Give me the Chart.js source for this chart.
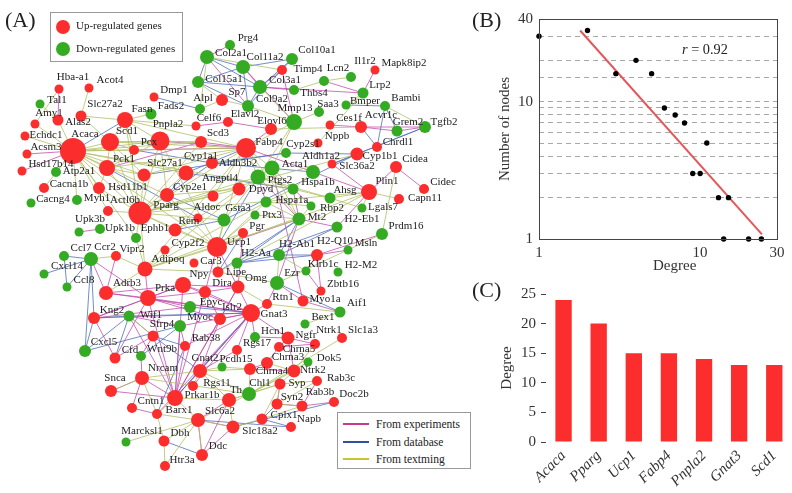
<!DOCTYPE html>
<html>
<head>
<meta charset="utf-8">
<title>Gene network</title>
<script src="https://cdn.jsdelivr.net/npm/chart.js@4"></script>
<style>
  html, body { margin: 0; padding: 0; background: #fff; overflow: hidden; }
  body { width: 792px; height: 493px; position: relative; font-family: "Liberation Serif", serif; color: #222; }
  canvas { position: absolute; }
  .panel { position: absolute; font-size: 22px; line-height: 24px; }
  .box { position: absolute; box-sizing: border-box; border: 1.5px solid #999; background: #fff; }
  .item { position: absolute; font-size: 11px; line-height: 14px; white-space: nowrap; }
  .dot { position: absolute; width: 14px; height: 14px; border-radius: 50%; }
  .dash { position: absolute; width: 26px; height: 2px; }
  #frameB { position: absolute; box-sizing: border-box; left: 539px; top: 19px; width: 239px; height: 221px; border: 1px solid #444; }
</style>
</head>
<body>
<canvas id="network" width="480" height="493" style="left:0;top:0"></canvas>
<canvas id="degreeDist" width="312" height="275" style="left:480px;top:0"></canvas>
<canvas id="topGenes" width="312" height="218" style="left:480px;top:275px"></canvas>
<div id="frameB"></div>

<div class="panel" style="left:5px;top:8px">(A)</div>
<div class="panel" style="left:472px;top:8px">(B)</div>
<div class="panel" style="left:472px;top:278px">(C)</div>

<div class="box" style="left:50px;top:12px;width:133px;height:50px">
  <div class="dot" style="left:5px;top:7px;background:#fb2d2d"></div>
  <div class="item" style="left:25px;top:5px">Up-regulated genes</div>
  <div class="dot" style="left:5px;top:29px;background:#35ab24"></div>
  <div class="item" style="left:25px;top:28px">Down-regulated genes</div>
</div>

<div class="box" style="left:337px;top:412px;width:134px;height:57px">
  <div class="dash" style="left:5px;top:10px;background:#c8398f"></div>
  <div class="item" style="left:38px;top:4px;font-size:11.5px">From experiments</div>
  <div class="dash" style="left:5px;top:28px;background:#33509f"></div>
  <div class="item" style="left:38px;top:22px;font-size:11.5px">From database</div>
  <div class="dash" style="left:5px;top:45px;background:#c6c62f"></div>
  <div class="item" style="left:38px;top:39px;font-size:11.5px">From textming</div>
</div>

<div class="item" style="left:682px;top:41px;font-size:14.3px;line-height:16px"><i>r</i> = 0.92</div>
<div class="item" style="left:653px;top:257px;font-size:15px;line-height:16px;color:#333">Degree</div>

<script>
// (A) network, one entry per gene, same order in every array
const genes = [
  'Tal1','Hba-a1','Acot4','Amy1','Alas2','Slc27a2','Fasn','Fads2','Dmp1','Alpl',
  'Sp7','Col15a1','Col2a1','Prg4','Echdc1','Acsm3','Acaca','Scd1','Pcx','Pnpla2',
  'Pck1','Hsd17b14','Atp2a1','Slc27a1','Cacna1b','Cacng4','Myh1','Hsd11b1','Actl6b','Pparg',
  'Cyp2e1','Upk3b','Upk1b','Ephb1','Rem','Aldoc','Gsta3','Angptl4','Dpyd','Cyp1a1',
  'Aldh3b2','Celf6','Elavl2','Scd3','Fabp4','Elovl6','Mmp13','Ccl7','Ccr2','Vipr2',
  'Cxcl14','Ccl8','Adrb3','Adipoq','Cyp2f2','Ucp1','Car3','Npy','Lipe','H2-Aa',
  'Prka','Dira','Omg','Epyc','Islr2','Gnat3','Kng2','Wif1','Sfrp4','Myoc',
  'Cxcl5','Cfd','Wnt9b','Rab38','Gnat2','Pcdh15','Rgs17','Hcn1','Ngfr','Ntrk1',
  'Slc1a3','Chrna5','Chrna3','Chrna4','Ntrk2','Dok5','Rab3c','Syp','Chl1','Syn2',
  'Rab3b','Doc2b','Cplx1','Napb','Slc18a2','Slc6a2','Th','Rgs11','Prkar1b','Nrcam',
  'Snca','Cntn1','Barx1','Marcksl1','Dbh','Ddc','Htr3a','Cidea','Cidec','Plin1',
  'Capn11','Ahsg','Cyp2s1','Ptgs2','Acta1','Hspa1b','Aldh1a2','Slc36a2','Cyp1b1','Nppb',
  'Ces1f','Acvr1c','Grem2','Tgfb2','Chrdl1','Bambi','Bmper','Saa3','Lrp2','Mapk8ip2',
  'Il1r2','Lcn2','Thbs4','Col3a1','Col9a2','Col11a2','Col10a1','Timp4','Hspa1a','Rbp2',
  'Lgals7','Ptx3','Mt2','H2-Eb1','Prdm16','Pgr','H2-Ab1','H2-Q10','Msln','H2-M2',
  'Klrb1c','Ezr','Zbtb16','Myo1a','Rtn1','Aif1','Bex1'
];
const geneX = [
  40,59,89,35,58,81,125,151,154,200,
  222,198,207,230,25,27,73,110,134,160,
  107,22,56,144,44,31,77,99,108,140,
  167,79,100,136,175,198,224,213,239,186,
  212,196,228,201,246,271,294,64,91,116,
  44,67,106,145,165,217,194,183,218,237,
  148,205,238,190,220,251,94,129,153,180,
  85,115,141,185,200,222,237,255,288,315,
  342,279,267,250,294,308,317,280,249,277,
  302,334,262,291,233,198,229,193,175,142,
  111,132,157,126,164,202,165,396,424,369,
  399,330,313,258,272,293,286,332,357,318,
  330,361,397,425,377,385,346,319,363,375,
  351,324,294,260,248,243,292,282,266,311,
  362,255,299,337,382,243,279,317,348,338,
  306,277,321,303,267,340,305
];
const geneY = [
  104,89,88,124,120,116,120,114,97,109,
  100,82,57,45,136,154,151,142,150,141,
  168,171,172,175,188,203,200,188,211,213,
  195,232,229,238,230,218,220,196,189,173,
  163,126,122,142,148,129,122,256,259,256,
  274,287,293,269,250,247,263,285,272,263,
  298,292,287,307,319,313,318,316,336,326,
  351,358,356,346,371,367,350,337,338,344,
  338,347,363,369,371,362,381,384,394,404,
  406,402,419,427,427,420,400,386,398,378,
  391,408,414,442,441,455,466,167,189,192,
  199,198,172,177,168,189,153,164,154,143,
  125,127,131,127,147,106,105,112,93,70,
  77,81,90,87,106,67,59,70,202,206,
  208,215,219,227,234,233,255,255,250,272,
  271,283,291,301,304,312,324
];
const geneSize = [
  4.5,4.5,4.5,4.5,5.5,5.5,8,5.5,4.5,5,
  6,6,7,5,4.5,4.5,13,9,5,9.5,
  8,4.5,5,6.5,5,4.5,5,6,5,11.5,
  7,4.5,5,5,6.5,4.5,6.5,5.5,6.5,7.5,
  6,4.5,5,6,10,6,8,5,7,5,
  4.5,4.5,7,7.5,4.5,10,4.5,8,5.5,5.5,
  8,6,6.5,6,6,9,6,5.5,5.5,6,
  6,5.5,5,5,7,4.5,5,5,6.5,5,
  5,5,6,6,6.5,4.5,5,5.5,7,5.5,
  5.5,5,5.5,5,6.5,7,7,5,8,7,
  6,5,5,4.5,5.5,6,5,6,5,8,
  5,5.5,7,7.5,7.5,5.5,5,4.5,6.5,4.5,
  4.5,6,5.5,6,5,5,4.5,5,5.5,4.5,
  5,5,5,7,6,7,6,5,5.5,4.5,
  4.5,4.5,6.5,5.5,6,5,6,6,4.5,4.5,
  4.5,7,4.5,5.5,5,5.5,4.5
];
const downGenes = [
  'Tal1','Fads2','Alpl','Col15a1','Col2a1','Prg4','Atp2a1','Cacng4','Myh1','Upk3b',
  'Upk1b','Ephb1','Gsta3','Mmp13','Ccl7','Ccr2','Cxcl14','Ccl8','H2-Aa','Epyc',
  'Wif1','Myoc','Cxcl5','Wnt9b','Pcdh15','Hcn1','Dok5','Chl1','Marcksl1','Ahsg',
  'Cyp2s1','Ptgs2','Acta1','Hspa1b','Aldh1a2','Grem2','Tgfb2','Bambi','Bmper','Saa3',
  'Lrp2','Il1r2','Lcn2','Thbs4','Col3a1','Col9a2','Col11a2','Col10a1','Hspa1a','Rbp2',
  'Lgals7','Ptx3','Mt2','H2-Eb1','Prdm16','H2-Ab1','Msln','H2-M2','Klrb1c','Ezr',
  'Aif1','Bex1'
];
const labelX = [
  57,73,110,49,78,105,142,171,174,203,
  237,224,231,248,46,46,85,127,149,168,
  124,51,79,165,69,53,97,128,125,166,
  190,90,120,155,189,207,238,220,261,201,
  238,209,245,218,269,272,295,81,105,132,
  67,84,127,168,188,239,211,199,236,256,
  165,222,256,211,232,274,112,151,162,200,
  104,130,162,206,205,236,257,273,306,329,
  363,299,288,272,313,329,341,297,260,292,
  320,354,284,309,260,220,236,217,202,163,
  115,151,179,142,180,218,182,415,443,387,
  425,345,303,280,295,318,321,357,380,337,
  349,381,408,444,398,406,365,328,380,404,
  365,338,314,285,272,265,317,308,292,332,
  383,272,317,362,406,257,297,335,366,361,
  323,292,343,325,283,357,323
];
const labelY = [
  100,77,80,113,122,104,109,106,90,98,
  92,79,53,38,135,147,134,131,142,124,
  159,164,171,163,184,199,198,187,200,205,
  187,219,228,228,221,207,208,178,189,156,
  163,118,114,133,142,121,108,248,247,249,
  266,280,283,259,243,242,261,274,272,253,
  288,283,278,302,307,314,310,315,324,317,
  342,350,349,338,358,359,343,331,335,330,
  330,349,357,371,370,358,378,383,383,397,
  392,394,415,419,431,411,390,383,395,368,
  378,401,410,431,433,446,460,159,182,181,
  198,190,144,180,164,182,156,166,156,136,
  118,115,122,122,142,98,101,104,85,63,
  61,68,93,80,99,57,50,69,200,208,
  207,215,217,219,226,226,244,241,243,265,
  264,273,284,299,297,303,317
];

// gene pairs, by evidence
const experimentEdges = [
  'Hba-a1 Alas2','Acsm3 Acaca','Hsd17b14 Acaca','Col2a1 Prg4','Col2a1 Col9a2','Col11a2 Col3a1','Col11a2 Mmp13',
  'Col3a1 Thbs4','Col3a1 Lrp2','Mmp13 Timp4','Col3a1 Timp4','Mapk8ip2 Lrp2','Lcn2 Lrp2','Acvr1c Tgfb2',
  'Acvr1c Grem2','Grem2 Tgfb2','Ces1f Acvr1c','Elavl2 Elovl6','Celf6 Elavl2','Fabp4 Elovl6','Fabp4 Scd3',
  'Pnpla2 Fabp4','Fabp4 Plin1','Cidea Plin1','Cidea Cidec','Plin1 Slc36a2','Pck1 Scd3','Pcx Fabp4',
  'Upk3b Upk1b','Ccr2 Prka','Ccr2 Adrb3','Vipr2 Adrb3','Adipoq Prka','Adrb3 Prka','Adrb3 Npy','Adrb3 Gnat3',
  'Prka Npy','Prka Dira','Prka Gnat3','Prka Epyc','Prka Islr2','Npy Dira','Npy Omg','Npy Gnat3','Dira Gnat3',
  'Dira Islr2','Dira Omg','Omg Gnat3','Omg Islr2','Gnat3 Islr2','Gnat3 Myoc','Gnat3 Kng2','Gnat3 Gnat2',
  'Gnat3 Prkar1b','Gnat3 Rab38','Gnat3 Rgs17','Gnat3 Rgs11','Gnat3 Barx1','Islr2 Prkar1b','Islr2 Gnat2',
  'Dira Prkar1b','Omg Prkar1b','Npy Prkar1b','Myoc Prkar1b','Rab38 Prkar1b','Sfrp4 Prkar1b','Wif1 Prkar1b',
  'Prka Prkar1b','Gnat2 Prkar1b','Snca Prkar1b','Nrcam Prkar1b','Cfd Prka','Kng2 Cfd','Kng2 Prka','Kng2 Npy',
  'Kng2 Epyc','Wif1 Sfrp4','Sfrp4 Cfd','Wnt9b Sfrp4','Wif1 Myoc','Myoc Rab38','Snca Nrcam','Nrcam Cntn1',
  'Nrcam Wnt9b','Barx1 Cntn1','Slc18a2 Ddc','Slc6a2 Ddc','Slc18a2 Slc6a2','Th Ddc','Th Slc6a2','Doc2b Rab3b',
  'Rab3b Rab3c','Rab3b Syn2','Syn2 Syp','Chrna3 Chrna4','Chrna3 Chrna5','Ntrk1 Ngfr','Ntrk1 Chrna5','Ngfr Ntrk2',
  'Ngfr Hcn1','Ngfr Chrna5','Chrna4 Ntrk2','Gnat3 Hcn1','Gnat3 Ngfr','Rgs17 Gnat2','Ezr Rtn1','Ezr Myo1a',
  'Ucp1 Dira','Ucp1 Omg','Pgr Omg','Acta1 Myo1a','Mt2 Ezr','H2-Q10 Zbtb16','H2-Q10 Msln','H2-Q10 Prdm16',
  'H2-Q10 Klrb1c','Plin1 H2-Eb1','H2-Eb1 Mt2','Hspa1a Ptgs2','Rtn1 Gnat3','Myo1a Aif1','Zbtb16 Klrb1c',
  'Ptgs2 Mt2','Ucp1 Mt2','Hspa1b Mt2','Acta1 Rbp2'
];
const databaseEdges = [
  'Acaca Fasn','Dmp1 Alpl','Col2a1 Col15a1','Col2a1 Col11a2','Col2a1 Col3a1','Col15a1 Col11a2','Col15a1 Col3a1',
  'Col15a1 Col9a2','Col11a2 Col10a1','Col11a2 Col9a2','Col10a1 Col3a1','Col10a1 Col9a2','Col3a1 Col9a2',
  'Bambi Grem2','Bambi Chrdl1','Bmper Bambi','Tgfb2 Cyp1b1','Tgfb2 Slc36a2','Chrdl1 Acvr1c','Cyp1b1 Aldh1a2',
  'Cyp1b1 Slc36a2','Fabp4 Cyp1a1','Cyp1a1 Hspa1b','Cyp1a1 Cyp2e1','Aldh3b2 Cyp2s1','Aldh3b2 Aldh1a2','Cyp2e1 Aldh3b2',
  'Slc27a1 Aldh1a2','Pcx Aldh3b2','Rem Gsta3','Gsta3 Cyp2e1','Gsta3 Cyp1b1','Aldoc Pck1','Ccl7 Ccr2','Cxcl14 Ccr2',
  'Ccl8 Ccr2','Ccl7 Ccl8','Ccr2 Cxcl5','Cxcl5 Kng2','Cxcl5 Wif1','Kng2 Ccr2','Wif1 Gnat3','Cfd Wif1','Cxcl5 Myoc',
  'H2-Eb1 H2-Ab1','H2-Eb1 H2-Aa','H2-Ab1 H2-Aa','H2-Ab1 H2-Q10','H2-Aa H2-Q10','H2-Aa Mt2','H2-Ab1 Mt2',
  'Ezr Aif1','Ucp1 Ptgs2','Gnat2 Sfrp4','Myoc Wnt9b','Rab38 Sfrp4','Barx1 Rab38','Dbh Ddc','Slc18a2 Doc2b',
  'Cplx1 Napb','Cplx1 Syn2','Slc6a2 Napb','Lipe Pgr','Lipe Mt2','Epyc Gnat3','Kng2 Wif1','Gnat3 Prkar1b'
];
const textEdges = [
  'Tal1 Alas2','Hba-a1 Amy1','Acot4 Slc27a2','Slc27a2 Fasn','Slc27a2 Scd1','Alas2 Acaca','Amy1 Acaca','Echdc1 Acaca',
  'Acaca Scd1','Acaca Pck1','Acaca Pcx','Acaca Pnpla2','Acaca Pparg','Acaca Fabp4','Acaca Slc27a1','Acaca Hsd11b1',
  'Acaca Myh1','Acaca Atp2a1','Acaca Actl6b','Acaca Cyp1a1','Acaca Scd3','Acaca Ephb1','Acaca Cacna1b','Acaca Cyp2e1',
  'Acaca Ucp1','Acaca Hspa1b','Fasn Fads2','Fasn Scd1','Fasn Pnpla2','Fasn Pcx','Fasn Fabp4','Fasn Pparg','Fasn Celf6',
  'Alpl Sp7','Sp7 Col15a1','Sp7 Col9a2','Alpl Col2a1','Col2a1 Timp4','Thbs4 Lcn2','Lcn2 Il1r2','Saa3 Mmp13','Bambi Tgfb2',
  'Lrp2 Nppb','Elovl6 Acvr1c','Bmper Lrp2','Cidea Prdm16','Plin1 Capn11','Plin1 Ahsg','Plin1 Lgals7','Ezr Prdm16',
  'Ahsg Lgals7','Ahsg Hspa1b','Ptgs2 Ahsg','Acta1 Hspa1b','Cyp2s1 Hspa1b','Scd1 Pnpla2','Scd1 Pck1','Scd1 Pparg','Scd1 Fabp4',
  'Scd1 Scd3','Scd1 Slc27a1','Scd1 Pcx','Pnpla2 Pparg','Pnpla2 Pck1','Pnpla2 Scd3','Pnpla2 Cyp2e1','Pnpla2 Ucp1','Pck1 Pparg',
  'Pck1 Slc27a1','Pck1 Fabp4','Pck1 Hsd11b1','Pparg Fabp4','Pparg Ucp1','Pparg Adipoq','Pparg Plin1','Pparg Cyp2e1',
  'Pparg Slc27a1','Pparg Angptl4','Pparg Scd3','Pparg Ptgs2','Pparg Ephb1','Pparg Hsd11b1','Pparg Rem','Pparg Cyp1b1','Pparg Gsta3',
  'Pparg Dpyd','Pparg Actl6b','Pparg Cyp1a1','Fabp4 Ucp1','Fabp4 Adipoq','Fabp4 Mmp13','Fabp4 Angptl4','Fabp4 Acta1','Fabp4 Slc27a1',
  'Fabp4 Ptgs2','Fabp4 Mt2','Ucp1 Adipoq','Adipoq Ptgs2','Adipoq Hspa1a','Adipoq Mt2','Adipoq Ephb1','Adipoq Vipr2','Adipoq Lipe',
  'Adipoq Pgr','Ucp1 Plin1','Ucp1 Hspa1a','Ucp1 Rem','Ucp1 Gsta3','Ucp1 Cyp2e1','Ucp1 Pgr','Ucp1 Ptx3','Ucp1 Lipe','Lipe Plin1',
  'Mmp13 Ptgs2','Mmp13 Acta1','Mmp13 Col9a2','Mmp13 Col3a1','Acta1 Mt2','Ptgs2 Hspa1b','Ptgs2 Acta1','Ptgs2 Gsta3','Hspa1a Hspa1b',
  'Hspa1a Mt2','Hspa1a Rbp2','Rbp2 Mt2','Ptx3 Mt2','Dpyd Aldoc','Dpyd Cyp2e1','Rem Aldoc','Adrb3 Adipoq','Vipr2 Ccr2','Wif1 Sfrp4',
  'Snca Nrcam','Prkar1b Th','Prkar1b Slc6a2','Prkar1b Barx1','Gnat2 Th','Gnat2 Chl1','Pcdh15 Chrna4','Gnat2 Pcdh15','Rgs11 Gnat2',
  'Nrcam Chl1','Nrcam Gnat2','Nrcam Barx1','Th Chl1','Th Slc18a2','Th Syp','Chl1 Syp','Chl1 Ntrk2','Chl1 Chrna4','Chl1 Dok5',
  'Chl1 Slc6a2','Chl1 Slc1a3','Chrna4 Gnat2','Chrna3 Ntrk2','Ntrk2 Syp','Ntrk2 Dok5','Ntrk2 Ntrk1','Syp Syn2','Syp Rab3c','Syp Cplx1',
  'Syn2 Rab3b','Syn2 Rab3c','Rab3b Cplx1','Cplx1 Slc18a2','Slc6a2 Marcksl1','Slc6a2 Dbh','Slc6a2 Ddc','Slc6a2 Htr3a','Barx1 Slc6a2',
  'Barx1 Dbh','Dbh Htr3a','Slc18a2 Slc6a2','Aif1 Bex1','Aif1 Rtn1','Ezr H2-Ab1','Klrb1c H2-Ab1','Lipe Ezr','Rtn1 Omg'
];

// (B) degree distribution
const degreeValues = [1,2,3,4,5,6,7,8,9,10,11,13,14,15,20,24];
const nodeCounts = [30,33,16,20,16,9,8,7,3,3,5,2,1,2,1,1];
const fitDegree = [1.8,24.2];
const fitCount = [33,1.08];

// (C) top genes
const topGeneNames = ['Acaca','Pparg','Ucp1','Fabp4','Pnpla2','Gnat3','Scd1'];
const topGeneDegree = [24,20,15,15,14,13,13];

const UP = '#fb2d2d', DOWN = '#35ab24';
const SERIF = '"Liberation Serif", serif';
Chart.defaults.font.family = SERIF;
Chart.defaults.color = '#222';
Chart.defaults.animation = false;
Chart.defaults.responsive = false;
Chart.defaults.plugins.legend.display = false;
Chart.defaults.plugins.tooltip.enabled = false;

function edgePoints(pairs) {
  const pts = [];
  pairs.forEach(p => {
    const [a, b] = p.split(' ').map(n => genes.indexOf(n));
    if (a < 0 || b < 0) throw new Error('unknown gene in ' + p);
    pts.push({x: geneX[a], y: geneY[a]}, {x: geneX[b], y: geneY[b]}, {x: null, y: null});
  });
  return pts;
}

function edgeSet(pairs, color) {
  return {data: edgePoints(pairs), showLine: true, spanGaps: false, borderColor: color, borderWidth: 1, pointRadius: 0, tension: 0};
}

const geneLabels = {
  id: 'geneLabels',
  afterDatasetsDraw(chart) {
    const {ctx, scales} = chart;
    ctx.save();
    ctx.font = '11px ' + SERIF;
    ctx.fillStyle = '#222';
    ctx.textAlign = 'center';
    ctx.textBaseline = 'middle';
    genes.forEach((g, i) => ctx.fillText(g, scales.x.getPixelForValue(labelX[i]), scales.y.getPixelForValue(labelY[i])));
    ctx.restore();
  }
};

new Chart(document.getElementById('network'), {
  type: 'scatter',
  data: {
    datasets: [
      {
        data: genes.map((g, i) => ({x: geneX[i], y: geneY[i]})),
        pointRadius: geneSize,
        pointBorderWidth: 0,
        pointBackgroundColor: genes.map(g => downGenes.includes(g) ? DOWN : UP)
      },
      edgeSet(textEdges, 'rgba(176,192,104,0.8)'),
      edgeSet(databaseEdges, 'rgba(80,112,184,0.8)'),
      edgeSet(experimentEdges, 'rgba(190,70,170,0.75)')
    ]
  },
  options: {
    layout: {padding: 0, autoPadding: false},
    scales: {
      x: {display: false, min: 0, max: 480},
      y: {display: false, min: 0, max: 493, reverse: true}
    }
  },
  plugins: [geneLabels]
});

new Chart(document.getElementById('degreeDist'), {
  type: 'scatter',
  data: {
    datasets: [
      {
        data: degreeValues.map((d, i) => ({x: d, y: nodeCounts[i]})),
        pointRadius: 2.7, pointBackgroundColor: '#000', pointBorderWidth: 0, clip: false
      },
      {
        data: fitDegree.map((d, i) => ({x: d, y: fitCount[i]})),
        showLine: true, borderColor: '#e2585a', borderWidth: 2, pointRadius: 0
      }
    ]
  },
  options: {
    layout: {padding: {top: 19, right: 15}, autoPadding: false},
    scales: {
      x: {
        type: 'logarithmic', min: 1, max: 30,
        afterFit(s) { s.height = 36; },
        grid: {display: false, drawTicks: false},
        border: {display: false},
        ticks: {
          autoSkip: false, maxRotation: 0, padding: 5, font: {size: 15}, color: '#333',
          callback: v => [1, 10, 30].includes(v) ? String(v) : ''
        }
      },
      y: {
        type: 'logarithmic', min: 1, max: 40,
        afterFit(s) { s.width = 59; },
        grid: {
          drawTicks: false,
          color: c => (c.tick.value === 1 || c.tick.value === 40) ? 'transparent' : '#a8a8a8'
        },
        border: {display: false, dash: [5, 4]},
        ticks: {
          autoSkip: false, padding: 6, font: {size: 15}, color: '#333',
          callback: v => [1, 10, 40].includes(v) ? String(v) : ''
        },
        title: {display: true, text: 'Number of nodes', font: {size: 15}, color: '#333', padding: {top: 16, bottom: 0}}
      }
    }
  }
});

new Chart(document.getElementById('topGenes'), {
  type: 'bar',
  data: {
    labels: topGeneNames,
    datasets: [{data: topGeneDegree, backgroundColor: '#fb2d2d', categoryPercentage: 1, barPercentage: 0.465}]
  },
  options: {
    layout: {padding: {top: 19, right: 0}},
    scales: {
      x: {
        afterFit(s) { s.height = 51; },
        grid: {display: false, drawTicks: false},
        border: {display: false},
        ticks: {minRotation: 45, maxRotation: 45, padding: 5, font: {size: 15, style: 'italic'}, color: '#333'}
      },
      y: {
        min: 0, max: 25,
        afterFit(s) { s.width = 66; },
        grid: {drawOnChartArea: false, tickLength: 5, color: '#444'},
        border: {display: false},
        ticks: {stepSize: 5, padding: 5, font: {size: 15}, color: '#333'},
        title: {display: true, text: 'Degree', font: {size: 15}, color: '#333', padding: {top: 18, bottom: 0}}
      }
    }
  }
});
</script>
</body>
</html>
